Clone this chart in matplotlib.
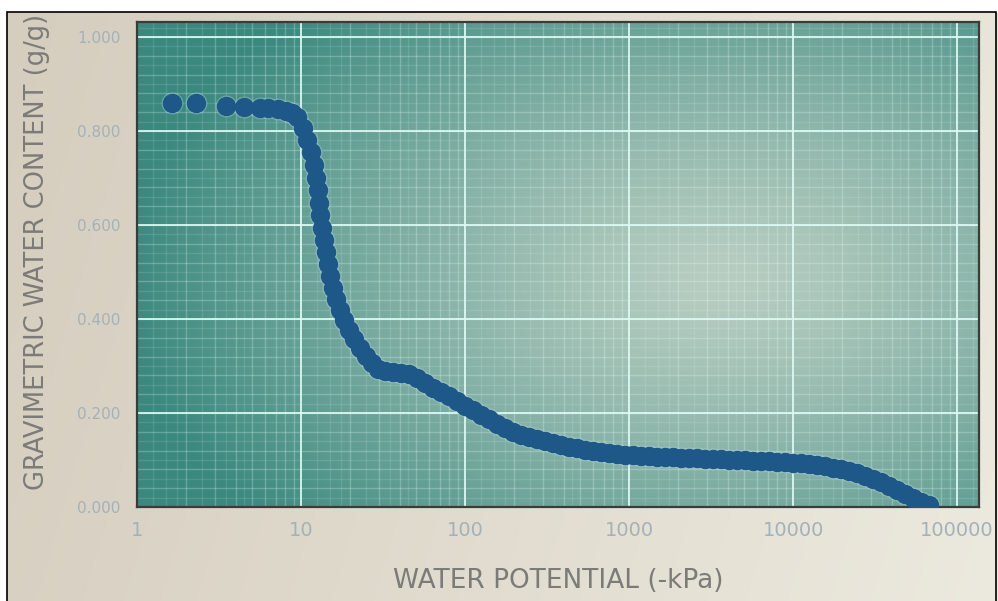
import numpy as np
import matplotlib
matplotlib.use("Agg")
import matplotlib.pyplot as plt
from matplotlib.patches import Rectangle
from matplotlib.ticker import FixedLocator, FixedFormatter, NullFormatter

# Water retention measurements: suction (-kPa) vs gravimetric water content (g/g)
potential_kpa = [
    1.63, 2.29, 3.49, 4.49, 5.6, 6.3, 7.2, 8.1, 8.8,
    9.46, 10.3, 10.9, 11.5, 12.0, 12.3, 12.7, 12.9, 13.1, 13.4, 13.8,
    14.2, 14.6, 15.0, 15.7, 16.3, 17.3, 18.3, 19.6, 21.0, 22.9, 24.9,
    27.1, 29.5,
    32.5, 36.4, 40.7, 45.6, 51.0, 57.0, 63.8, 71.4, 79.9, 89.4, 100,
    112, 125, 140, 157, 175, 196, 219, 246, 275, 307, 344, 385, 431,
    482, 539, 603, 675, 755, 845, 946, 1057, 1183, 1324, 1482, 1658,
    1855, 2076, 2323, 2600, 2906, 3252, 3639, 4073, 4558, 5100, 5707,
    6387, 7147, 7998, 8950, 10000, 11200, 12530, 14020, 15690, 17560,
    19650, 21990, 24600, 27530, 30800, 34470, 38570, 43060, 48200,
    53950, 60300, 67500,
]
water_content = [
    0.860, 0.860, 0.854, 0.851, 0.849, 0.848, 0.846, 0.843, 0.838,
    0.830, 0.806, 0.781, 0.755, 0.728, 0.700, 0.674, 0.647, 0.621, 0.594, 0.568,
    0.543, 0.517, 0.491, 0.466, 0.443, 0.419, 0.398, 0.377, 0.357, 0.338, 0.321,
    0.306, 0.294,
    0.289, 0.287, 0.285, 0.283, 0.274, 0.264, 0.253, 0.245, 0.236, 0.226, 0.215,
    0.206, 0.196, 0.187, 0.177, 0.168, 0.160, 0.153, 0.149, 0.145, 0.140, 0.136, 0.132, 0.128,
    0.126, 0.121, 0.119, 0.117, 0.115, 0.113, 0.111, 0.111, 0.109, 0.109, 0.106, 0.106,
    0.106, 0.104, 0.104, 0.104, 0.102, 0.102, 0.102, 0.100, 0.100, 0.100, 0.098,
    0.098, 0.098, 0.096, 0.096, 0.094, 0.094, 0.091, 0.089, 0.087, 0.083,
    0.081, 0.077, 0.072, 0.066, 0.060, 0.053, 0.045, 0.036, 0.028,
    0.019, 0.011, 0.004,
]

x_ticks = [1, 10, 100, 1000, 10000, 100000]
x_tick_labels = ["1", "10", "100", "1000", "10000", "100000"]
y_ticks = [0.0, 0.2, 0.4, 0.6, 0.8, 1.0]
y_tick_labels = ["0.000", "0.200", "0.400", "0.600", "0.800", "1.000"]

W, H, DPI = 998, 601, 100
fig = plt.figure(figsize=(W / DPI, H / DPI), dpi=DPI, facecolor="white")

# warm paper-like backdrop inside the frame
bg = fig.add_axes([7 / W, 0, 1 - 7 / W, 1 - 12 / H], zorder=-10)
gx = np.linspace(0, 1, 300)[None, :]
gy = np.linspace(0, 1, 200)[:, None]
left_c = np.array([213, 205, 190]) / 255
right_c = np.array([236, 233, 222]) / 255
t = np.clip(gx * 0.85 + (1 - gy) * 0.15, 0, 1)[..., None]
paper = left_c * (1 - t) + right_c * t
bg.imshow(paper, aspect="auto", extent=[0, 1, 0, 1], origin="lower")
bg.set_axis_off()

fig.patches.append(Rectangle((7 / W, -0.01), 1 - 9 / W, 1 - 12 / H + 0.01,
                             transform=fig.transFigure, fill=False,
                             edgecolor="black", linewidth=1.2, zorder=5))

ax_pos = [137 / W, (H - 507) / H, (979 - 137) / W, (507 - 22) / H]

# radial glow behind the plotting area
glow = fig.add_axes(ax_pos, zorder=-5)
px = np.linspace(137, 979, 420)[None, :]
py = np.linspace(507, 22, 240)[:, None]
r = np.sqrt(((px - 720) / 600) ** 2 + ((py - 280) / 380) ** 2)
tt = np.clip(r, 0, 1)[..., None] ** 1.3
center_c = np.array([184, 205, 193]) / 255
edge_c = np.array([58, 136, 126]) / 255
glow.imshow(center_c * (1 - tt) + edge_c * tt, aspect="auto",
            extent=[0, 1, 0, 1], origin="lower")
glow.set_axis_off()

ax = fig.add_axes(ax_pos, zorder=1)
ax.set_facecolor("none")
ax.set_xscale("log")
ax.set_xlim(1, 136000)
ax.set_ylim(0, 1.032)

# grid: fine texture, minor, then major lines
fine_x = [m * 10 ** d for d in range(0, 6) for m in (1.25, 1.5, 1.75, 2.5, 3.5, 4.5)]
minor_x = [m * 10 ** d for d in range(0, 6) for m in range(2, 10)]
for xv in fine_x:
    ax.axvline(xv, color="#e6fff8", lw=1.0, alpha=0.12, zorder=0.2)
for yv in np.arange(0.02, 1.04, 0.04):
    ax.axhline(yv, color="#e6fff8", lw=1.0, alpha=0.12, zorder=0.2)
for xv in minor_x:
    ax.axvline(xv, color="#e6fff8", lw=1.0, alpha=0.25, zorder=0.3)
for yv in np.arange(0.04, 1.04, 0.04):
    ax.axhline(yv, color="#e6fff8", lw=1.0, alpha=0.25, zorder=0.3)
for xv in x_ticks:
    ax.axvline(xv, color="#dcfbf4", lw=1.4, alpha=0.9, zorder=0.4)
for yv in y_ticks:
    ax.axhline(yv, color="#dcfbf4", lw=1.4, alpha=0.9, zorder=0.4)

# soft halo, then the data points
ax.scatter(potential_kpa, water_content, s=250, color="#b8d8e2", alpha=0.35,
           linewidths=0, zorder=2)
ax.scatter(potential_kpa, water_content, s=195, color="#1d5888",
           linewidths=0, zorder=3)

ax.xaxis.set_major_locator(FixedLocator(x_ticks))
ax.xaxis.set_major_formatter(FixedFormatter(x_tick_labels))
ax.xaxis.set_minor_formatter(NullFormatter())
ax.yaxis.set_major_locator(FixedLocator(y_ticks))
ax.yaxis.set_major_formatter(FixedFormatter(y_tick_labels))
ax.tick_params(axis="both", which="both", length=0)
ax.tick_params(axis="x", pad=10, labelsize=14, labelcolor="#a3b2b9")
ax.tick_params(axis="y", pad=12, labelsize=11, labelcolor="#a3b2b9")

for side, sp in ax.spines.items():
    sp.set_color("#3b3b38")
    sp.set_linewidth(1.6)

ax.set_xlabel("WATER POTENTIAL (-kPa)", fontsize=19, color="#7b7b78", labelpad=20)
ax.set_ylabel("GRAVIMETRIC WATER CONTENT (g/g)", fontsize=18.5, color="#7b7b78")
ax.yaxis.set_label_coords(-0.103, 0.526)

fig.savefig("out.png", dpi=DPI)
